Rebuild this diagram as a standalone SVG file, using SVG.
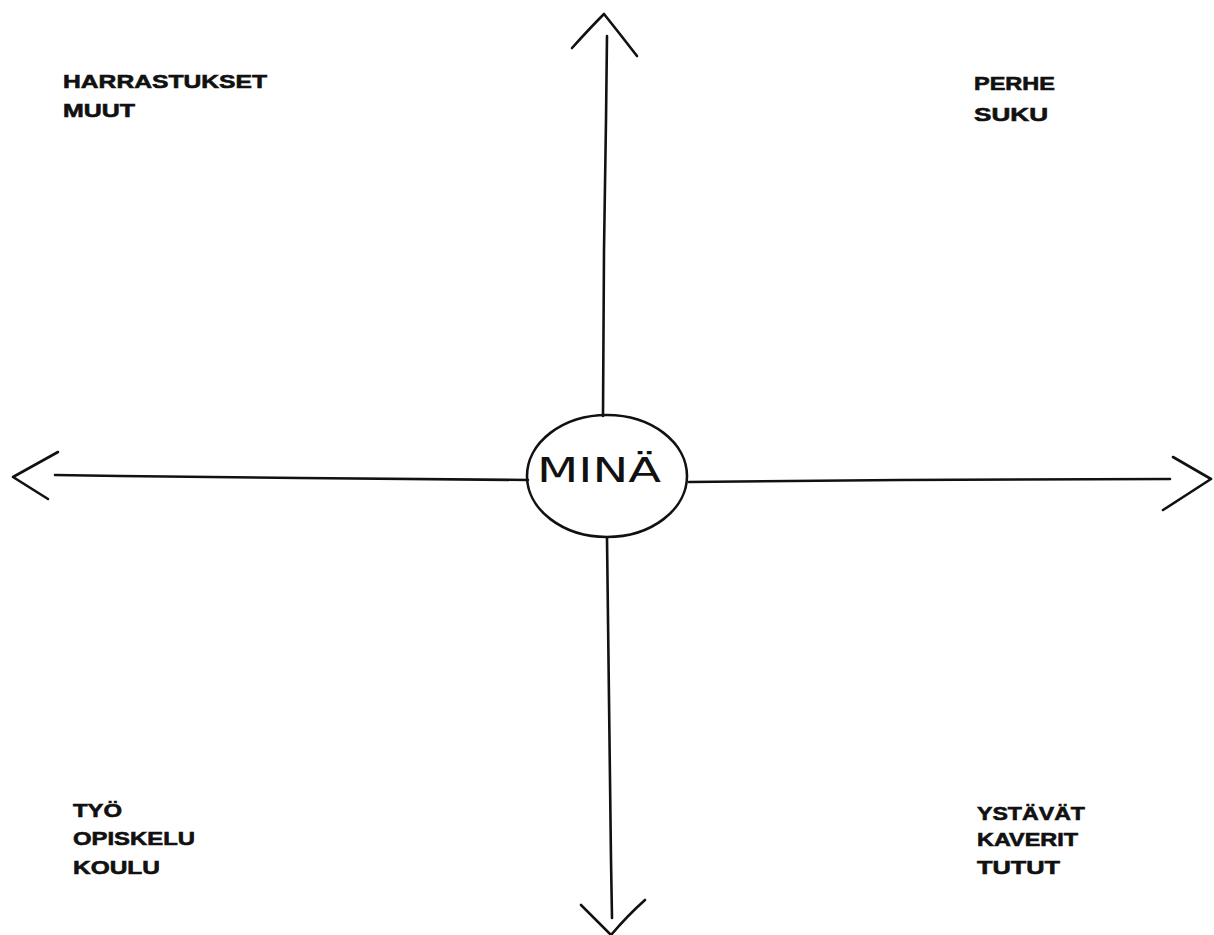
<svg xmlns="http://www.w3.org/2000/svg" width="1214" height="935" viewBox="0 0 1214 935">
<style>
.ln{fill:none;stroke:#111;stroke-width:2.6;stroke-linecap:round;stroke-linejoin:round}
.lb{font-family:"Liberation Sans",Arial,sans-serif;font-weight:bold;font-size:19px;fill:#111;stroke:#111;stroke-width:0.6}
.mn{font-family:"DejaVu Sans","Liberation Sans",sans-serif;font-size:34px;fill:#111}
</style>
<rect width="1214" height="935" fill="#fff"/>
<g id="connectors">
<path class="ln" d="M603,416 L604,250 L606,120 L607,36"/>
<path class="ln" d="M572,48 Q590,28 604,14 Q620,34 637,56"/>
<path class="ln" d="M528,480 L300,478 L120,476 L55,475"/>
<path class="ln" d="M58,452 L13,477 L48,499"/>
<path class="ln" d="M689,482 L900,480 L1170,479"/>
<path class="ln" d="M1173,457 L1211,479 L1163,510"/>
<path class="ln" d="M607,538 L609,700 L611,860 L612,918"/>
<path class="ln" d="M581,905 Q598,922 611,935 Q628,915 645,900"/>
</g>
<g id="node-mina">
<ellipse class="ln" cx="607" cy="476" rx="80" ry="61"/>
<text class="mn" x="537" y="482" textLength="124" lengthAdjust="spacingAndGlyphs">MINÄ</text>
</g>
<g id="node-harrastukset">
<text class="lb" x="63" y="88" textLength="204" lengthAdjust="spacingAndGlyphs">HARRASTUKSET</text>
<text class="lb" x="63" y="117" textLength="72" lengthAdjust="spacingAndGlyphs">MUUT</text>
</g>
<g id="node-perhe">
<text class="lb" x="974" y="90" textLength="81" lengthAdjust="spacingAndGlyphs">PERHE</text>
<text class="lb" x="974" y="121" textLength="74" lengthAdjust="spacingAndGlyphs">SUKU</text>
</g>
<g id="node-tyo">
<text class="lb" x="73" y="817" textLength="49" lengthAdjust="spacingAndGlyphs">TYÖ</text>
<text class="lb" x="73" y="845" textLength="122" lengthAdjust="spacingAndGlyphs">OPISKELU</text>
<text class="lb" x="73" y="874" textLength="87" lengthAdjust="spacingAndGlyphs">KOULU</text>
</g>
<g id="node-ystavat">
<text class="lb" x="977" y="820" textLength="108" lengthAdjust="spacingAndGlyphs">YSTÄVÄT</text>
<text class="lb" x="977" y="846" textLength="101" lengthAdjust="spacingAndGlyphs">KAVERIT</text>
<text class="lb" x="977" y="874" textLength="83" lengthAdjust="spacingAndGlyphs">TUTUT</text>
</g>
</svg>
